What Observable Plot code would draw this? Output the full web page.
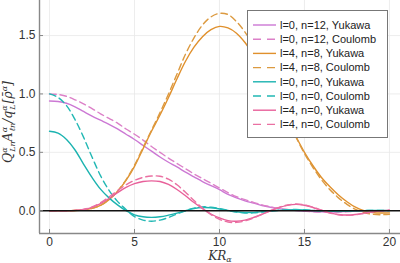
<!DOCTYPE html>
<html><head><meta charset="utf-8">
<script src="https://cdn.jsdelivr.net/npm/d3@7"></script>
<script src="https://cdn.jsdelivr.net/npm/@observablehq/plot@0.6"></script>
<style>
body{margin:0;background:#fff;}
#wrap{position:relative;width:400px;height:263px;overflow:hidden;font-family:"Liberation Sans",Arial,sans-serif;}
#legend{position:absolute;left:247px;top:10px;width:141px;height:128px;border:1px solid #777;background:#fff;box-sizing:border-box;}
</style></head><body><div id="wrap"></div>
<script>
const kr = [0,0.5,1,1.5,2,2.5,3,3.5,4,4.5,5,5.5,6,6.5,7,7.5,8,8.5,9,9.5,10,10.5,11,11.5,12,12.5,13,13.5,14,14.5,15,15.5,16,16.5,17,17.5,18,18.5,19,19.5,20];
const xTicks = [0,5,10,15,20];
const yTicks = [0,0.5,1.0,1.5];

const l0n12Yukawa = [0.94,0.935,0.92,0.89,0.85,0.81,0.775,0.74,0.70,0.655,0.61,0.56,0.51,0.46,0.415,0.375,0.33,0.29,0.25,0.215,0.18,0.14,0.11,0.085,0.065,0.045,0.03,0.018,0.008,0.002,-0.003,-0.007,-0.01,-0.011,-0.01,-0.007,-0.004,-0.001,0,0.001,0.001];
const l0n12Coulomb = [1.0,0.995,0.98,0.95,0.915,0.875,0.83,0.79,0.75,0.70,0.655,0.605,0.55,0.5,0.45,0.405,0.36,0.315,0.275,0.235,0.195,0.155,0.12,0.095,0.072,0.05,0.034,0.02,0.01,0.003,-0.003,-0.008,-0.011,-0.012,-0.011,-0.008,-0.004,-0.001,0,0.001,0.001];
const l4n8Yukawa = [0,0,0,0.002,0.008,0.02,0.045,0.095,0.165,0.26,0.38,0.53,0.68,0.82,0.97,1.13,1.28,1.40,1.49,1.55,1.578,1.565,1.52,1.44,1.33,1.2,1.06,0.92,0.78,0.635,0.5,0.385,0.285,0.205,0.135,0.077,0.03,0.0,-0.015,-0.02,-0.018];
const l4n8Coulomb = [0,0,0,0.002,0.008,0.02,0.046,0.097,0.168,0.265,0.39,0.54,0.69,0.84,1.0,1.17,1.34,1.48,1.59,1.66,1.69,1.68,1.62,1.53,1.41,1.26,1.1,0.94,0.78,0.63,0.49,0.37,0.265,0.18,0.11,0.055,0.012,-0.015,-0.03,-0.034,-0.03];
const l0n0Yukawa = [0.68,0.665,0.61,0.52,0.40,0.285,0.185,0.11,0.05,0.0,-0.035,-0.052,-0.057,-0.052,-0.038,-0.02,0.0,0.018,0.027,0.025,0.015,0.002,-0.009,-0.015,-0.014,-0.009,-0.003,0.003,0.007,0.008,0.006,0.002,-0.002,-0.004,-0.005,-0.003,-0.001,0.001,0.002,0.002,0.001];
const l0n0Coulomb = [1.0,0.97,0.9,0.78,0.63,0.46,0.30,0.175,0.08,0.01,-0.05,-0.08,-0.09,-0.08,-0.058,-0.028,0.0,0.022,0.033,0.03,0.018,0.003,-0.012,-0.019,-0.018,-0.011,-0.003,0.004,0.009,0.01,0.008,0.003,-0.002,-0.005,-0.006,-0.004,-0.001,0.001,0.003,0.002,0.001];
const l4n0Yukawa = [0,0,0,0.003,0.01,0.028,0.06,0.105,0.155,0.2,0.232,0.25,0.256,0.25,0.225,0.182,0.128,0.07,0.018,-0.028,-0.062,-0.085,-0.09,-0.08,-0.058,-0.03,0.0,0.027,0.046,0.054,0.047,0.028,0.004,-0.018,-0.032,-0.037,-0.032,-0.021,-0.01,-0.001,0.005];
const l4n0Coulomb = [0,0,0,0.003,0.011,0.032,0.068,0.118,0.172,0.222,0.26,0.285,0.297,0.295,0.27,0.222,0.158,0.088,0.022,-0.033,-0.074,-0.097,-0.1,-0.087,-0.062,-0.031,0.0,0.029,0.049,0.057,0.05,0.03,0.004,-0.02,-0.035,-0.04,-0.035,-0.023,-0.011,-0.001,0.005];

const seriesNames = ["l=0, n=12, Yukawa","l=0, n=12, Coulomb","l=4, n=8, Yukawa","l=4, n=8, Coulomb","l=0, n=0, Yukawa","l=0, n=0, Coulomb","l=4, n=0, Yukawa","l=4, n=0, Coulomb"];
const seriesValues = [l0n12Yukawa,l0n12Coulomb,l4n8Yukawa,l4n8Coulomb,l0n0Yukawa,l0n0Coulomb,l4n0Yukawa,l4n0Coulomb];
const seriesColors = ["#cc78d4","#dc80c8","#e0902c","#dc9a40","#1bb3b0","#22b8b4","#e8609a","#ea70a2"];
const seriesDashed = [false,true,false,true,false,true,false,true];

const DASH = "6.5,4";
const lineMarks = seriesNames.map((name,i) => {
  const rows = kr.map((x,j) => ({x, y: seriesValues[i][j]}));
  return Plot.line(rows, {x:"x", y:"y", stroke: seriesColors[i], strokeWidth: 1.4,
    strokeDasharray: seriesDashed[i] ? DASH : null, curve: "catmull-rom"});
});

const xDom = [-0.59, 20.65];
const yDom = [-0.195, 1.8];

const plot = Plot.plot({
  width: 400, height: 263,
  marginLeft: 39, marginRight: 0, marginTop: 0, marginBottom: 30,
  x: {domain: xDom},
  y: {domain: yDom},
  style: {fontFamily: "Liberation Sans, Arial, sans-serif", fontSize: "12px", color: "#333", background: "white"},
  marks: [
    Plot.gridX(xTicks, {stroke: "#e8e8e8", strokeOpacity: 1, strokeWidth: 0.8}),
    Plot.gridY(yTicks, {stroke: "#e8e8e8", strokeOpacity: 1, strokeWidth: 0.8}),
    ...lineMarks,
    Plot.ruleY([0], {stroke: "#111", strokeWidth: 1.6}),
    Plot.ruleX([xDom[0]], {stroke: "#888", strokeWidth: 1.4}),
    Plot.ruleY([yDom[0]], {stroke: "#888", strokeWidth: 1.4}),
    Plot.axisX(xTicks, {tickSize: 0, tickPadding: 4, label: null, fill: "#333", fontSize: 12}),
    Plot.axisX(xTicks, {tickSize: 4, dy: -4, text: null, label: null, stroke: "#888"}),
    Plot.axisY(yTicks, {tickSize: 0, tickPadding: 4, label: null, tickFormat: d3.format(".1f"), fill: "#333", fontSize: 12}),
    Plot.axisY(yTicks, {tickSize: 4, dx: 4, text: null, label: null, stroke: "#888"})
  ]
});

const wrap = document.getElementById("wrap");
wrap.appendChild(plot);

// axis titles
const svg = d3.select(plot);
const ylab = svg.append("text")
  .attr("transform", "translate(12,122) rotate(-90)")
  .attr("text-anchor", "middle")
  .attr("font-family", "DejaVu Serif, Liberation Serif, serif")
  .attr("font-style", "italic")
  .attr("font-size", 12.5)
  .attr("fill", "#333");
const parts = [
  ["Q",12.5,0,0],["α",8,-5,0],["Ln",8,8,-4.5],["A",12.5,-3,0],["α",8,-5,0],["ℓn",8,8,-4.5],
  ["/q",12.5,-3,0],["α",8,-5,0],["L",8,8,-4.5],["[ρ̄",12.5,-3,1],["α",8,-5,0],["]",12.5,5,0]
];
parts.forEach(([t,fs,dy,dx]) => {
  ylab.append("tspan").attr("font-size", fs).attr("dy", dy).attr("dx", dx).text(t);
});

const xlab = svg.append("text")
  .attr("x", 220).attr("y", 260)
  .attr("text-anchor", "middle")
  .attr("font-family", "DejaVu Serif, Liberation Serif, serif")
  .attr("font-style", "italic")
  .attr("font-size", 12)
  .attr("fill", "#333");
xlab.append("tspan").text("KR");
xlab.append("tspan").attr("font-size", 8).attr("dy", 1.5).text("α");

// legend
const leg = document.createElement("div");
leg.id = "legend";
wrap.appendChild(leg);
const ls = d3.select(leg).append("svg").attr("width", 139).attr("height", 126);
seriesNames.forEach((name,i) => {
  const y = 14 + i*14.2;
  ls.append("line").attr("x1", 5).attr("x2", 28).attr("y1", y).attr("y2", y)
    .attr("stroke", seriesColors[i]).attr("stroke-width", 1.4)
    .attr("stroke-dasharray", seriesDashed[i] ? "8,6" : null);
  ls.append("text").attr("x", 32).attr("y", y).attr("dy", "0.35em")
    .attr("font-size", 11).attr("fill", "#222")
    .attr("font-family", "Liberation Sans, Arial, sans-serif")
    .text(name);
});
</script>
</body></html>
